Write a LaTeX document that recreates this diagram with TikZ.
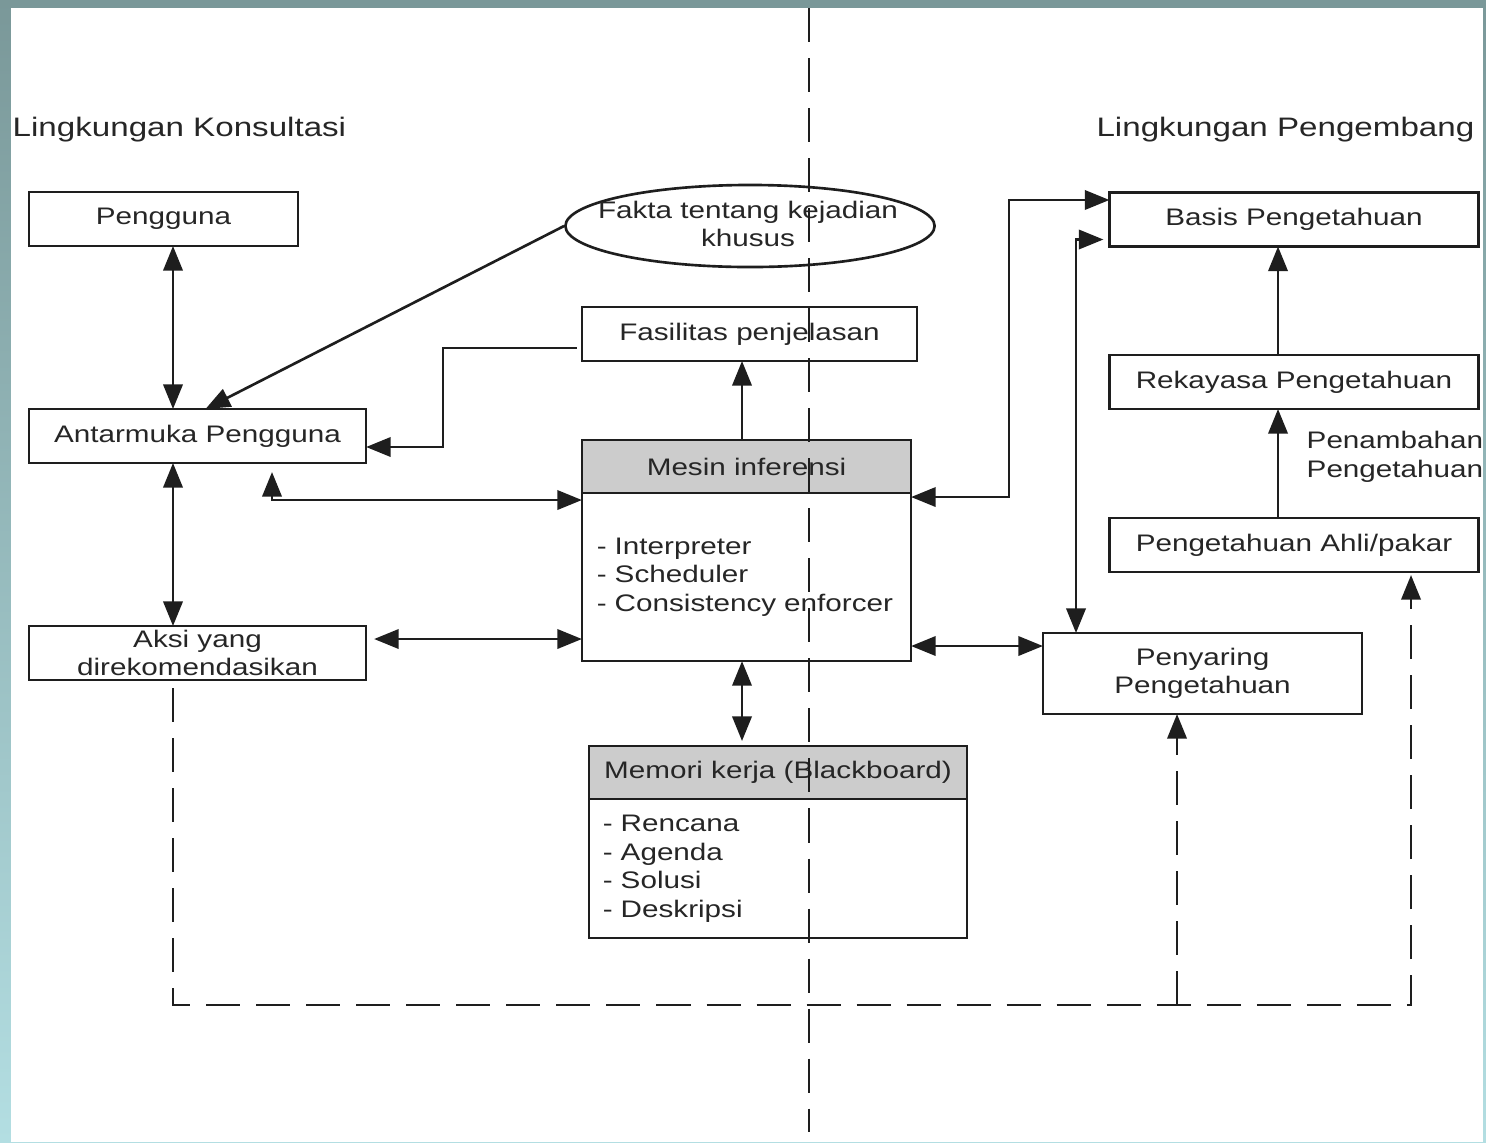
\documentclass[tikz,border=0pt]{standalone}
\usepackage{fontspec}
\setmainfont[FakeStretch=1.24]{Liberation Sans}
\usetikzlibrary{arrows.meta,positioning,shapes.geometric}

\definecolor{garis}{HTML}{1E1E1E}
\definecolor{tulisan}{HTML}{262626}
\definecolor{kepala}{HTML}{CCCCCC}
\definecolor{tepiatas}{HTML}{7A9899}
\definecolor{tepibawah}{HTML}{B3DEE2}

\newcommand{\isi}{\fontsize{6.8}{8.1}\selectfont}
\newcommand{\judul}{\fontsize{7.6}{9}\selectfont}

\tikzset{
  blok/.style={draw=garis, fill=white, line width=0.75pt, inner sep=0pt, outer sep=0pt,
    minimum height=0.54cm, align=center, font=\isi, text=tulisan},
  kop/.style={blok, fill=kepala, minimum height=0.53cm},
  daftar/.style={blok, align=left, inner xsep=0.15cm},
  panah/.style={draw=garis, line width=0.75pt, -{Triangle[length=7pt,width=5.5pt]}},
  duapanah/.style={panah, {Triangle[length=7pt,width=5.5pt]}-{Triangle[length=7pt,width=5.5pt]}},
  putus/.style={dash pattern=on 3.4mm off 1.6mm},
  teks/.style={font=\isi, text=tulisan, align=center, inner sep=0pt}
}

\begin{document}
\begin{tikzpicture}[x=0.01cm, y=-0.01cm]
  % frame of the slide
  \useasboundingbox (0,0) rectangle (1486,1142);
  \shade[top color=tepiatas, bottom color=tepibawah] (0,0) rectangle (1486,1142);
  \fill[white] (11,8) rectangle (1483,1142);

  % headings of both sides
  \node[teks, font=\judul, anchor=west] (konsul) at (12,130) {Lingkungan Konsultasi};
  \node[teks, font=\judul, anchor=east] (kembang) at (1475,130) {Lingkungan Pengembang};

  % consultation side
  \node[blok, minimum width=2.69cm] (pengguna) at (163.5,219) {Pengguna};
  \node[blok, minimum width=3.37cm] (antar) at (197.5,436) {Antarmuka Pengguna};
  \node[blok, minimum width=3.37cm] (aksi) at (197.5,653) {Aksi yang\\direkomendasikan};
  \node[draw=garis, line width=0.75pt, ellipse, minimum width=3.69cm, minimum height=0.82cm,
    inner sep=0pt] (fakta) at (750,226) {};
  \node[teks] (faktateks) at (748,224) {Fakta tentang kejadian\\khusus};
  \node[blok, minimum width=3.35cm] (fasil) at (749.5,334) {Fasilitas penjelasan};
  \node[kop, minimum width=3.29cm] (mesinkop) at (746.5,466.5) {Mesin inferensi};
  \node[daftar, text width=2.99cm, minimum height=1.68cm, below=0pt of mesinkop] (mesin)
    {- Interpreter\\- Scheduler\\- Consistency enforcer};
  \node[kop, minimum width=3.78cm] (memorikop) at (778,772.5) {Memori kerja (Blackboard)};
  \node[daftar, text width=3.5cm, inner xsep=0.14cm, minimum height=1.39cm, below=0pt of memorikop]
    (memori) {- Rencana\\- Agenda\\- Solusi\\- Deskripsi};

  % developer side
  \node[blok, minimum width=3.69cm] (basis) at (1294,219.5) {Basis Pengetahuan};
  \node[blok, minimum width=3.69cm] (rekayasa) at (1294,382) {Rekayasa Pengetahuan};
  \node[blok, minimum width=3.69cm] (ahli) at (1294,545) {Pengetahuan Ahli/pakar};
  \node[blok, minimum width=3.19cm, minimum height=0.81cm] (saring) at (1202.5,673.5)
    {Penyaring\\Pengetahuan};
  \node[teks, align=left, anchor=west] (tambah) at (1306,457) {Penambahan\\Pengetahuan};

  % lanes for the connectors
  \coordinate (kiri) at (173,0);
  \coordinate (kolom) at (272,0);
  \coordinate (belok) at (443,0);
  \coordinate (tengah) at (742,0);
  \coordinate (jalur) at (1009,0);
  \coordinate (turun) at (1076,0);
  \coordinate (saringkol) at (1177,0);
  \coordinate (kanan) at (1278,0);
  \coordinate (ahlikol) at (1411,0);
  \coordinate (bawah) at (0,1005);
  \coordinate (aksibaris) at (0,639);
  \coordinate (saringbaris) at (0,646);
  \coordinate (antarbaris) at (0,447);
  \coordinate (fasilkiri) at ([shift={(-5,14)}]fasil.west);
  \coordinate (antarbawah) at ([yshift=-0.9mm]antar.south);
  \coordinate (mesinkiri) at ([yshift=-0.7mm]mesin.north west);
  \coordinate (aksikanan) at ([xshift=0.8mm]aksi.east);
  \coordinate (memoriatas) at ([yshift=0.5mm]memorikop.north);
  \coordinate (mesinkanan) at ([yshift=-0.4mm]mesin.north east);
  \coordinate (basisatas) at ([yshift=1.95mm]basis.west);
  \coordinate (basisbawah) at ([shift={(-6,20)}]basis.west);
  \coordinate (aksibawah) at ([yshift=-0.8mm]aksi.south);
  \coordinate (ahlibawah) at ([yshift=-0.3mm]ahli.south);

  % connectors
  \draw[duapanah] (pengguna.south -| kiri) -- (antar.north -| kiri);
  \draw[duapanah] (antar.south -| kiri) -- (aksi.north -| kiri);
  \draw[panah] (fakta.west) -- ([xshift=0.8mm]antar.north);
  \draw[panah] (fasilkiri) -| (belok |- antarbaris) -- (antar.east |- antarbaris);
  \draw[panah] (mesinkop.north -| tengah) -- (fasil.south -| tengah);
  \draw[duapanah] (antarbawah -| kolom) |- (mesinkiri);
  \draw[duapanah] (aksikanan |- aksibaris) -- (mesin.west |- aksibaris);
  \draw[duapanah] (mesin.south -| tengah) -- (memoriatas -| tengah);
  \draw[duapanah] (mesin.east |- saringbaris) -- (saring.west |- saringbaris);
  \draw[duapanah] (mesinkanan) -| (jalur |- basisatas) -- (basisatas);
  \draw[duapanah] (basisbawah) -| (saring.north -| turun);
  \draw[panah] (rekayasa.north -| kanan) -- (basis.south -| kanan);
  \draw[panah] (ahli.north -| kanan) -- (rekayasa.south -| kanan);

  % dashed feedback loop
  \draw[panah, putus] (aksibawah -| kiri) -- (kiri |- bawah) -- (ahlikol |- bawah) -- (ahlibawah -| ahlikol);
  \draw[panah, putus] (saringkol |- bawah) -- (saring.south -| saringkol);

  % divider between the two sides
  \draw[garis, line width=0.75pt, putus] (809,8) -- (809,1132);
\end{tikzpicture}
\end{document}
